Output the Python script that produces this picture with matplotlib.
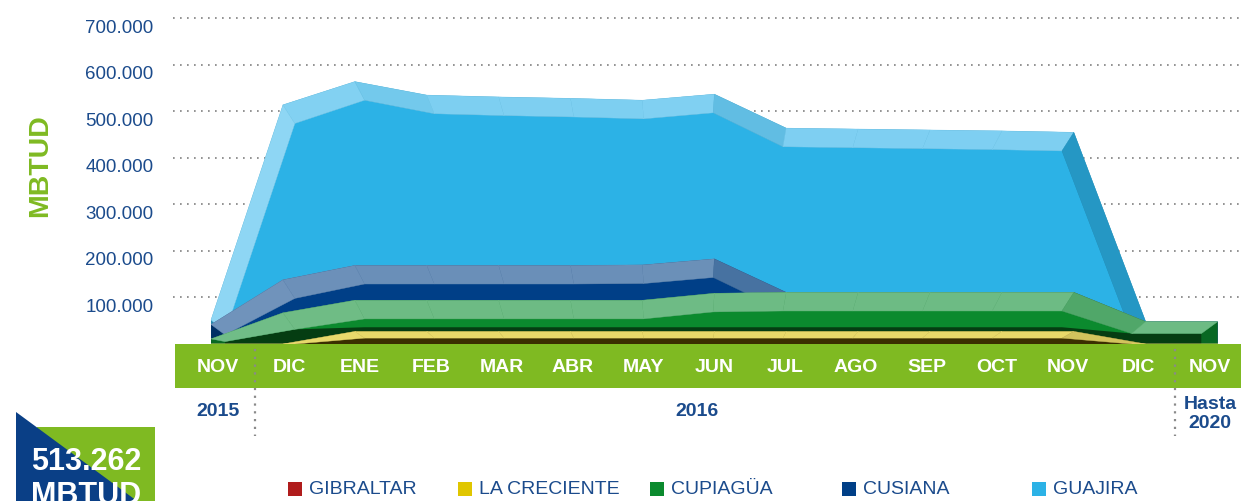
import numpy as np
import matplotlib.pyplot as plt
from matplotlib.patches import Polygon, Rectangle
from matplotlib.lines import Line2D
from matplotlib.colors import to_rgb
import matplotlib.transforms as mtransforms

plt.rcParams['font.family'] = ['Liberation Sans', 'DejaVu Sans']

# data (MBTUD)
months = ['NOV', 'DIC', 'ENE', 'FEB', 'MAR', 'ABR', 'MAY', 'JUN',
          'JUL', 'AGO', 'SEP', 'OCT', 'NOV', 'DIC', 'NOV']
gibraltar = np.array([0, 0, 0, 0, 0, 0, 0, 0, 0, 0, 0, 0, 0, 0, 0]) * 1000
la_creciente = np.array([0, 0, 27, 27, 27, 27, 27, 27, 27, 27, 27, 27, 27, 0, 0]) * 1000
cupiagua = np.array([11, 67, 67, 67, 67, 67, 67, 82, 84, 84, 84, 84, 84, 48, 48]) * 1000
cusiana = np.array([31, 71, 75, 75, 75, 75, 76, 74, 0, 0, 0, 0, 0, 0, 0]) * 1000
guajira = np.array([10, 376, 395, 366, 362, 359, 354, 354, 353, 351, 349, 347, 344, 0, 0]) * 1000
yticks = [100000, 200000, 300000, 400000, 500000, 600000, 700000]
total_text = '513.262'

names = ['GIBRALTAR', 'LA CRECIENTE', 'CUPIAGÜA', 'CUSIANA', 'GUAJIRA']
series = [gibraltar, la_creciente, cupiagua, cusiana, guajira]
legend_colors = ['#b01c1c', '#e0c600', '#0b8a2e', '#003f87', '#2cb2e6']
front_colors = ['#b01c1c', '#3a2e00', '#0b8a2e', '#003f87', '#2cb2e6']
top_colors = ['#d06060', '#e8d96a', '#6dbb84', '#6a8fb8', '#7fd0f2']

W, H = 1241, 502
GREEN = '#7fba22'
NAVY = '#1b4b8c'


def px(x):
    return x / W


def py(y):
    return 1 - y / H


def mix(c1, c2, t):
    a, b = np.array(to_rgb(c1)), np.array(to_rgb(c2))
    return tuple(a + (b - a) * t)


def face_color(top, front, slope):
    if slope > 0:
        return mix(top, 'white', min(slope / 300000, 1) * 0.12)
    return mix(top, mix(front, 'black', 0.15), min(-slope / 220000, 1))


fig = plt.figure(figsize=(W / 100, H / 100), dpi=100)
ax = fig.add_axes([px(173), py(345), px(W - 173), (345 - 10) / H])
ax.set_xlim(-0.529, 14.325)
ax.set_ylim(0, 720000)
for s in ax.spines.values():
    s.set_visible(False)

ax.set_yticks(yticks)
ax.set_yticklabels([f'{v:,}'.replace(',', '.') for v in yticks])
ax.tick_params(axis='y', length=0, pad=14, labelsize=13.5, labelcolor=NAVY)
ax.set_xticks([])
ax.yaxis.grid(True, color='#808080', linestyle=(0, (1, 3.2)), linewidth=1.2)
ax.set_axisbelow(True)
shift = mtransforms.ScaledTranslation(0, -7 / 100, fig.dpi_scale_trans)
for lab in ax.get_yticklabels():
    lab.set_transform(lab.get_transform() + shift)

# pseudo 3D stacked area
x = np.arange(len(months), dtype=float)
xf = x + (6.5 - x) * 0.03
cum = np.cumsum(np.vstack(series), axis=0)
for k in range(len(series) - 1, -1, -1):
    if series[k].max() == 0:
        continue
    back = cum[k]
    depth = np.minimum(40000, 0.53 * back)
    front = back - depth
    # silhouette (end caps)
    pts = [(x[0], 0)] + list(zip(x, back)) + [(x[-1], 0)]
    ax.add_patch(Polygon(pts, closed=True, fc=mix(front_colors[k], 'black', 0.25), ec='none'))
    # front face
    pts = [(xf[0], 0)] + list(zip(xf, front)) + [(xf[-1], 0)]
    ax.add_patch(Polygon(pts, closed=True, fc=front_colors[k], ec='none'))
    if names[k] == 'CUPIAGÜA':
        below = cum[k - 1]
        shadow = np.where(la_creciente > 0, below + 9000, front)
        shadow = np.minimum(shadow, front)
        pts = [(xf[0], 0)] + list(zip(xf, shadow)) + [(xf[-1], 0)]
        ax.add_patch(Polygon(pts, closed=True, fc='#053d12', ec='none'))
    # top faces
    for i in range(len(x) - 1):
        slope = back[i + 1] - back[i]
        quad = [(x[i], back[i]), (x[i + 1], back[i + 1]),
                (xf[i + 1], front[i + 1]), (xf[i], front[i])]
        c = face_color(top_colors[k], front_colors[k], slope)
        ax.add_patch(Polygon(quad, closed=True, fc=c, ec=c, lw=0.3))

# green month band
fig.add_artist(Rectangle((px(175), py(389)), px(W - 175), (389 - 345) / H,
                         transform=fig.transFigure, fc=GREEN, ec='none', zorder=2))
bt = mtransforms.blended_transform_factory(ax.transData, fig.transFigure)
for i, m in enumerate(months):
    fig.text(0, py(368), m, transform=bt, ha='center', va='center',
             color='white', fontsize=14, fontweight='bold', zorder=3)
    fig.texts[-1].set_x(i * 0.985 + 0.1)

for xs in (0.61, 13.41):
    fig.add_artist(Line2D([xs, xs], [py(350), py(437)], transform=bt,
                          color='#8a8a8a', linestyle=(0, (1, 2.5)), lw=1.6, zorder=3))

fig.text(px(218), py(411), '2015', ha='center', va='center', color=NAVY,
         fontsize=14, fontweight='bold')
fig.text(px(697), py(411), '2016', ha='center', va='center', color=NAVY,
         fontsize=14, fontweight='bold')
fig.text(px(1210), py(414), 'Hasta\n2020', ha='center', va='center', color=NAVY,
         fontsize=14, fontweight='bold', linespacing=1.15)

fig.text(px(40), py(166), 'MBTUD', rotation=90, ha='center', va='center',
         color=GREEN, fontsize=20.5, fontweight='bold')

# total badge
fig.add_artist(Rectangle((px(37), py(502)), px(155 - 37), (502 - 428) / H,
                         transform=fig.transFigure, fc=GREEN, ec='none'))
fig.add_artist(Polygon([(px(16), py(413)), (px(16), py(502)), (px(137), py(502))],
                       closed=True, transform=fig.transFigure, fc='#0a3f86', ec='none'))
fig.text(px(86), py(462), total_text, ha='center', va='center', color='white',
         fontsize=22, fontweight='bold', zorder=5)
fig.text(px(86), py(481), 'MBTUD', ha='center', va='top', color='white',
         fontsize=22, fontweight='bold', zorder=5)

# legend
leg_x = [288, 458, 650, 842, 1032]
for lx, name, col in zip(leg_x, names, legend_colors):
    fig.add_artist(Rectangle((px(lx), py(497)), px(14), 14 / H,
                             transform=fig.transFigure, fc=col, ec='none'))
    fig.text(px(lx + 21), py(490), name, ha='left', va='center', color=NAVY,
             fontsize=14)

fig.savefig('out.png', dpi=100)
